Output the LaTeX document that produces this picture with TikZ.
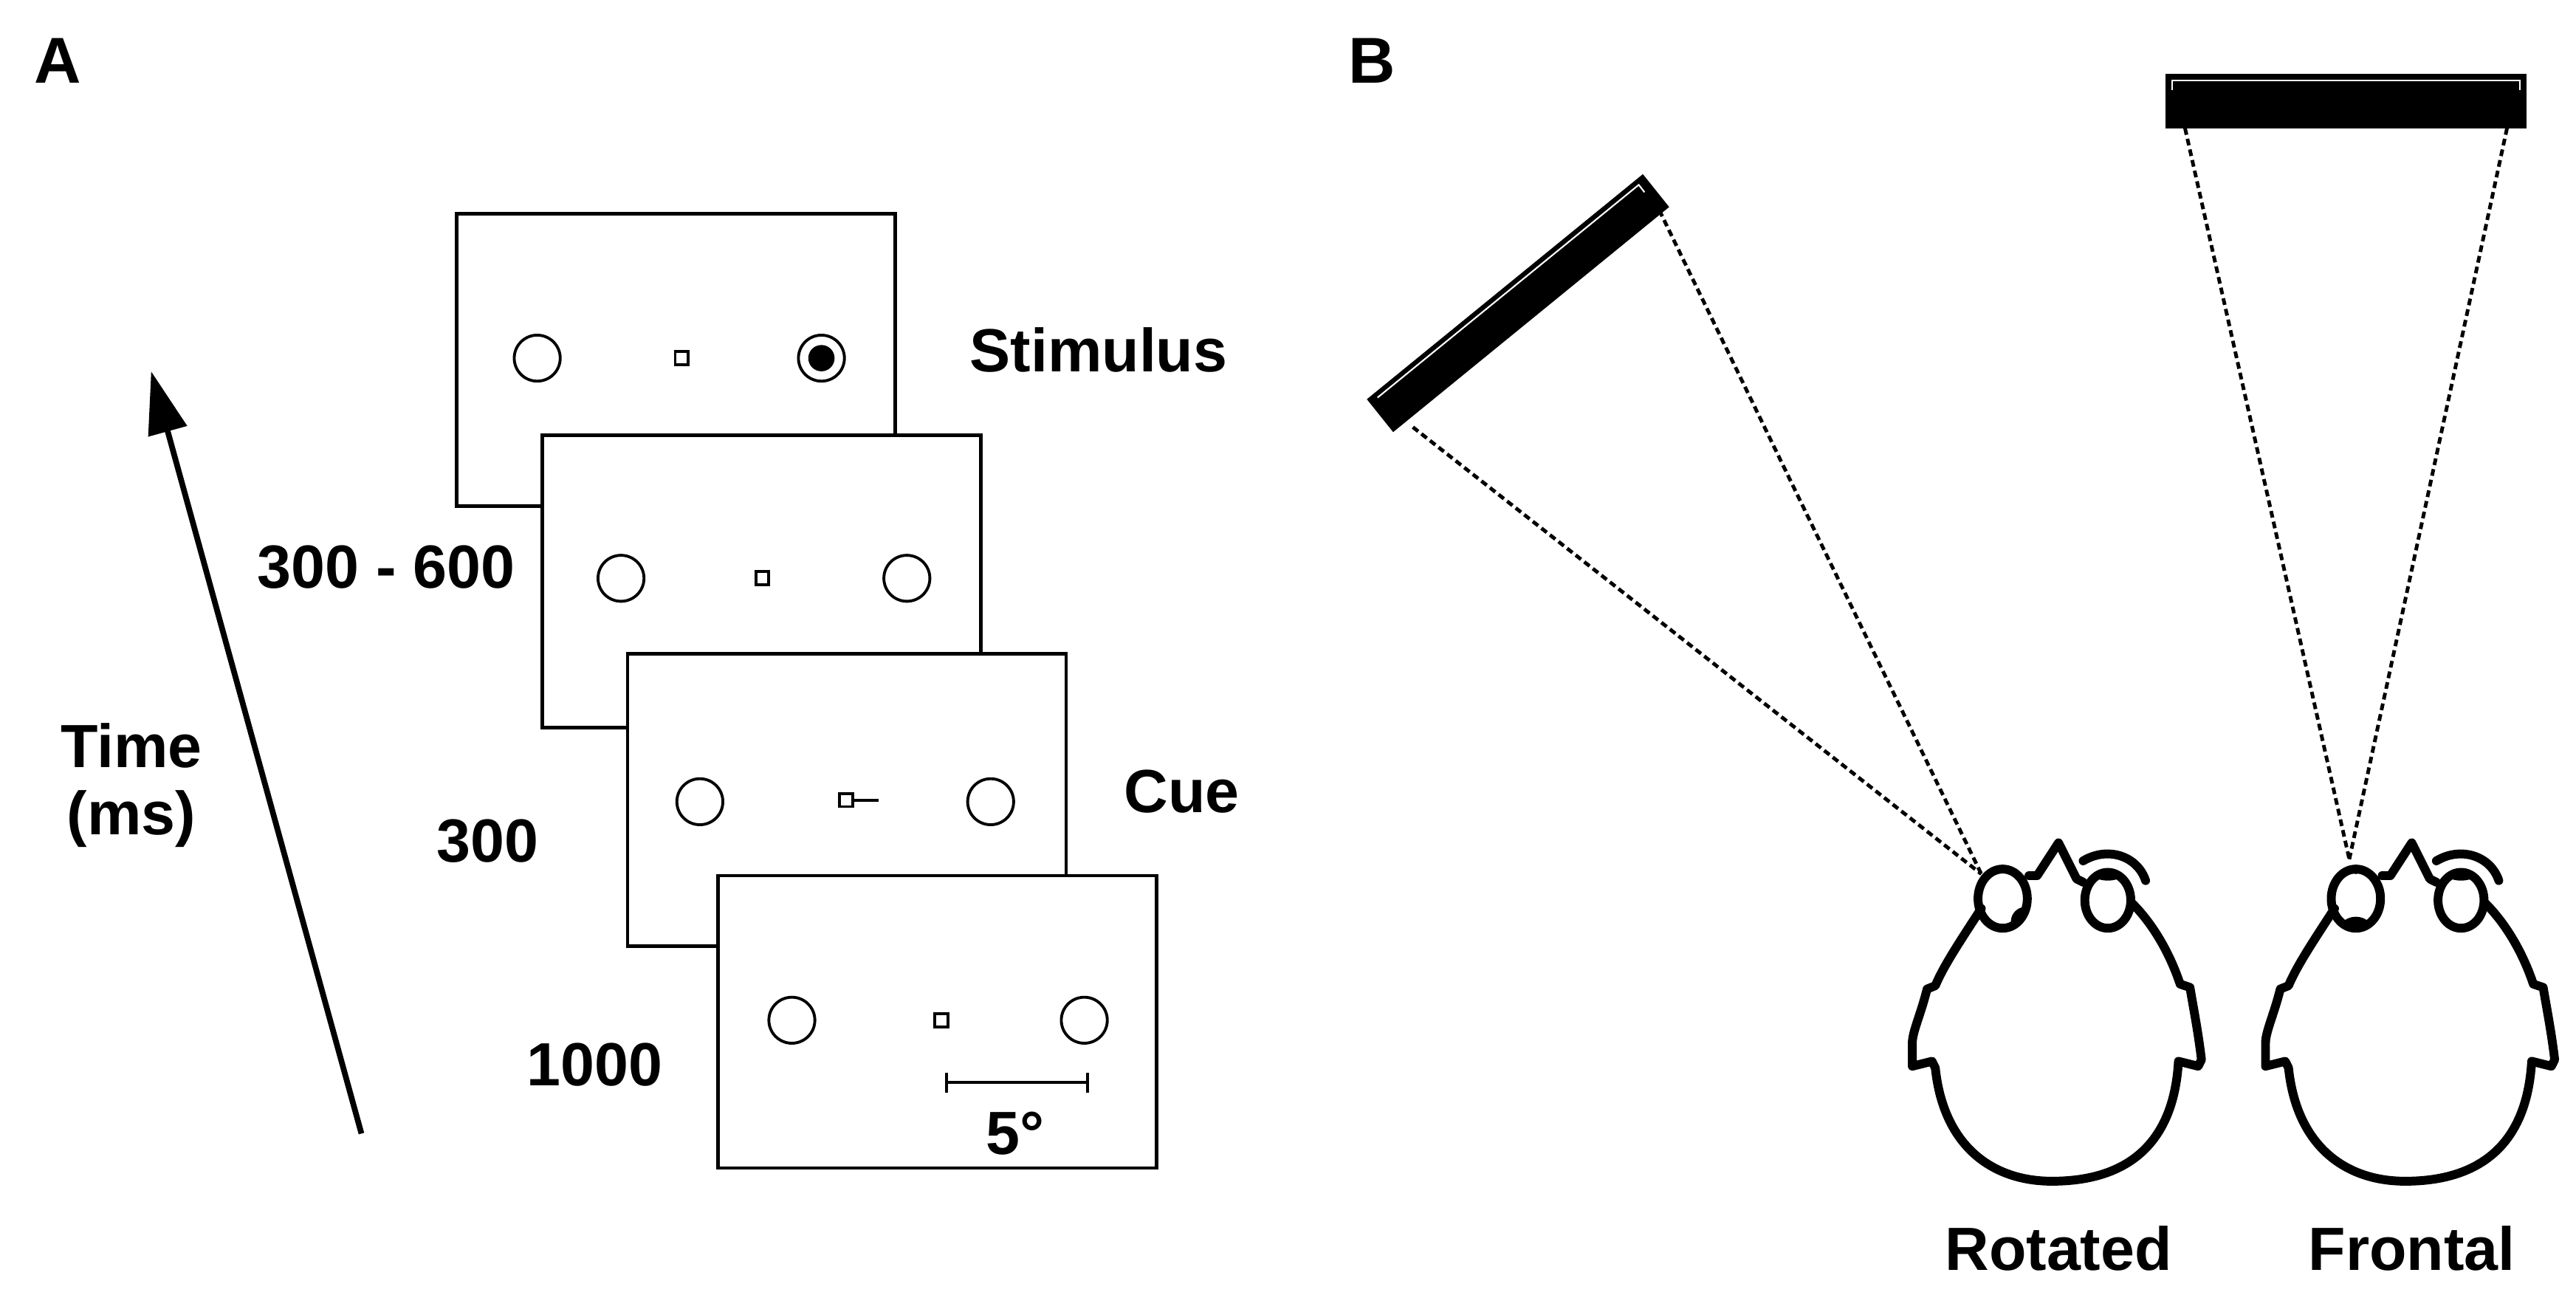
\documentclass[tikz,border=0pt]{standalone}
\usepackage{fontspec}
\setmainfont{Liberation Sans}
\usetikzlibrary{arrows.meta}
\begin{document}
\begin{tikzpicture}[x=0.02225cm,y=-0.02225cm,
  lbl/.style={font=\bfseries\fontsize{23.5}{26}\selectfont,inner sep=0pt},
  scr/.style={draw=black,line width=1.3pt,fill=white},
  spot/.style={draw=black,line width=1.1pt,fill=white},
  ray/.style={dash pattern=on 2.6pt off 1.6pt,line width=1.4pt},
  hd/.style={line width=3.4pt,line join=round,line cap=round}]
\useasboundingbox (0,0) rectangle (1568,788);
% ---------- Panel A ----------
\node[lbl,font=\bfseries\fontsize{25}{28}\selectfont] (A) at (35,37) {A};
\node[lbl,font=\bfseries\fontsize{25}{28}\selectfont] (B) at (835,37) {B};
% screens
\foreach \i/\x/\y in {1/278/130,2/330/265,3/382/398,4/437/533}{
  \draw[scr] (\x,\y) rectangle ++(267,178);
}
% screen 1
\draw[spot] (327,218) circle (14);
\draw[spot] (411,214) rectangle (419,222);
\draw[spot] (500,218) circle (14);
\fill (500,218) circle (8);
% screen 2
\draw[spot] (378,352) circle (14);
\draw[spot] (460,348) rectangle (468,356);
\draw[spot] (552,352) circle (14);
% screen 3
\draw[spot] (426,488) circle (14);
\draw[spot] (511,483) rectangle (519,491);
\draw[line width=1.1pt] (519,487) -- (535,487);
\draw[spot] (603,488) circle (14);
% screen 4
\draw[spot] (482,621) circle (14);
\draw[spot] (569,617) rectangle (577,625);
\draw[spot] (660,621) circle (14);
\draw[line width=1.1pt] (576,659) -- (662,659) (576,653) -- (576,665) (662,653) -- (662,665);
\node[lbl] (deg) at (618,690) {5°};
% labels
\node[lbl,anchor=west] (stim) at (590,213) {Stimulus};
\node[lbl] (t1) at (235,345) {300 - 600};
\node[lbl,anchor=west] (cue) at (684,482) {Cue};
\node[lbl] (t2) at (297,512) {300};
\node[lbl] (t3) at (362,648) {1000};
\node[lbl,align=center] (time) at (80,478) {Time\\(ms)};
\coordinate (ta) at (220,690);
\coordinate (tb) at (92,226);
\draw[line width=2.2pt,-{Triangle[length=24pt,width=15pt]}] (ta) -- (tb);
% ---------- Panel B ----------
% rotated monitor
\fill (832,243) -- (1000,106) -- (1016,126) -- (848,263) -- cycle;
\draw[white,line width=0.6pt] (838.5,242) -- (997.5,112.5) -- (1001,117);
% frontal monitor
\fill (1318,45) rectangle (1538,78);
\draw[white,line width=0.6pt] (1322,55) -- (1322,49) -- (1534,49) -- (1534,55);
% rays
\coordinate (rm1) at (860,260);
\coordinate (rm2) at (1010,128);
\coordinate (re) at (1206,532);
\coordinate (fm1) at (1330,78);
\coordinate (fm2) at (1526,78);
\coordinate (fe) at (1430,523);
\draw[ray] (rm1) -- (re);
\draw[ray] (rm2) -- (re);
\draw[ray] (fm1) -- (fe);
\draw[ray] (fm2) -- (fe);
% heads
\foreach \cx/\rot in {1253/1,1468/0}{
  \begin{scope}[shift={(\cx,513)}]
    \draw[hd] (-47,40) .. controls (-60,60) and (-70,75) .. (-75,87) -- (-80,89)
      .. controls (-84,105) and (-89,115) .. (-89,122) -- (-89,136) -- (-77,133) -- (-75,137)
      .. controls (-70,185) and (-40,206) .. (-4,206)
      .. controls (40,206) and (70,185) .. (73,133) -- (85,136) -- (87,132)
      .. controls (85,115) and (82,100) .. (80,88) -- (74,86)
      .. controls (68,68) and (58,50) .. (45,37);
    \draw[hd] (-18,20) -- (-13,20) -- (0,0) -- (11,22) -- (15,24);
    \draw[hd] (15,11) .. controls (30,2) and (48,8) .. (53,23);
    \begin{scope}
      \clip (-34,34) ellipse (15 and 18);
      \ifnum\rot=1
        \fill (-20,48) circle (9);
        \fill (-50,18) circle (8);
      \else
        \fill (-34,57) circle (12);
        \fill (-34,14) circle (5);
      \fi
    \end{scope}
    \draw[hd] (-34,34) ellipse (15 and 18);
    \draw[hd] (30,35) ellipse (14 and 17);
    \fill (30,20) ellipse (8 and 3);
  \end{scope}
}
\node[lbl] (rot) at (1253,760) {Rotated};
\node[lbl] (fro) at (1468,760) {Frontal};
\end{tikzpicture}
\end{document}
